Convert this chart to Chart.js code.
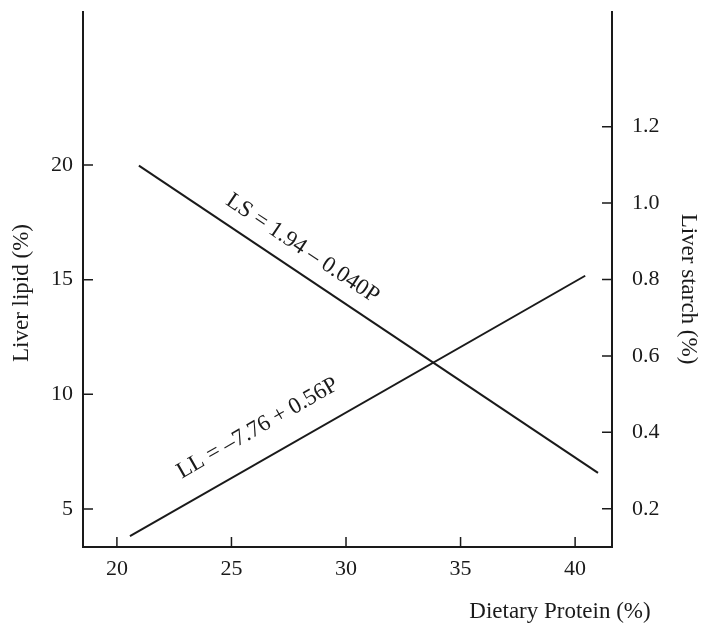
<!DOCTYPE html>
<html>
<head>
<meta charset="utf-8">
<script src="https://cdn.jsdelivr.net/npm/chart.js@4.4.0/dist/chart.umd.min.js"></script>
<style>
html, body { margin: 0; padding: 0; background: #fff; }
</style>
</head>
<body>
<canvas id="myChart" width="703" height="627"></canvas>
<script>
// end points of the two regression lines
const proteinLL = [20.57, 40.44];
const lipidLL = [3.82, 15.17];
const proteinLS = [20.96, 41.0];
const starchLS = [1.098, 0.294];

const proteinTicks = [20, 25, 30, 35, 40];
const lipidTicks = [5, 10, 15, 20];
const starchTicks = [0.2, 0.4, 0.6, 0.8, 1.0, 1.2];

const labelLL = 'LL = –7.76 + 0.56P';
const labelLS = 'LS = 1.94 – 0.040P';
// where the equation text sits (protein, value on its own axis)
const labelLLAt = [26.14, 8.52];
const labelLSAt = [28.1, 0.881];

const serif = "'Liberation Serif', 'Times New Roman', serif";
const ink = '#1a1a1a';

Chart.defaults.font.family = serif;
Chart.defaults.font.size = 22;
Chart.defaults.color = ink;

function fixTicks(list) {
    return function (scale) {
        scale.ticks = list.map(v => ({ value: v }));
    };
}

function fitSide(w) {
    return function (scale) {
        scale.width = w;
        scale.paddingTop = 0;
        scale.paddingBottom = 0;
    };
}

function toPoints(xs, ys) {
    return xs.map((x, i) => ({ x: x, y: ys[i] }));
}

const decor = {
    id: 'decor',
    afterDraw(chart) {
        const c = chart.ctx;
        const area = chart.chartArea;
        const sx = chart.scales.x, sy = chart.scales.y, sy1 = chart.scales.y1;
        c.save();
        c.strokeStyle = ink;
        c.lineWidth = 1.5;
        // inward tick marks
        c.beginPath();
        sx.ticks.forEach(t => {
            const px = sx.getPixelForValue(t.value);
            c.moveTo(px, area.bottom); c.lineTo(px, area.bottom - 10);
        });
        sy.ticks.forEach(t => {
            const py = sy.getPixelForValue(t.value);
            c.moveTo(area.left, py); c.lineTo(area.left + 10, py);
        });
        sy1.ticks.forEach(t => {
            const py = sy1.getPixelForValue(t.value);
            c.moveTo(area.right, py); c.lineTo(area.right - 10, py);
        });
        c.stroke();

        c.fillStyle = ink;
        c.font = '23px ' + serif;
        c.textAlign = 'center';
        c.textBaseline = 'middle';

        // axis titles
        c.fillText('Dietary Protein (%)', 560, 612);
        c.save();
        c.translate(22, 293);
        c.rotate(-Math.PI / 2);
        c.fillText('Liver lipid (%)', 0, 0);
        c.restore();
        c.save();
        c.translate(688, 289);
        c.rotate(Math.PI / 2);
        c.fillText('Liver starch (%)', 0, 0);
        c.restore();

        // equation labels along the lines
        function lineLabel(text, at, xs, ys, scaleY) {
            const x0 = sx.getPixelForValue(xs[0]), y0 = scaleY.getPixelForValue(ys[0]);
            const x1 = sx.getPixelForValue(xs[1]), y1 = scaleY.getPixelForValue(ys[1]);
            const ang = Math.atan2(y1 - y0, x1 - x0);
            c.save();
            c.translate(sx.getPixelForValue(at[0]), scaleY.getPixelForValue(at[1]));
            c.rotate(ang);
            c.fillText(text, 0, 0);
            c.restore();
        }
        lineLabel(labelLL, labelLLAt, proteinLL, lipidLL, sy);
        lineLabel(labelLS, labelLSAt, proteinLS, starchLS, sy1);
        c.restore();
    }
};

const ctx = document.getElementById('myChart');
const myChart = new Chart(ctx, {
    type: 'scatter',
    data: {
        datasets: [{
            label: 'Liver lipid',
            data: toPoints(proteinLL, lipidLL),
            yAxisID: 'y',
            showLine: true,
            borderColor: ink,
            borderWidth: 2,
            pointRadius: 0
        }, {
            label: 'Liver starch',
            data: toPoints(proteinLS, starchLS),
            yAxisID: 'y1',
            showLine: true,
            borderColor: ink,
            borderWidth: 2,
            pointRadius: 0
        }]
    },
    options: {
        responsive: false,
        animation: false,
        devicePixelRatio: 1,
        layout: { padding: { top: 12, left: 0, right: 0, bottom: 0 } },
        plugins: {
            legend: { display: false },
            tooltip: { enabled: false }
        },
        scales: {
            x: {
                type: 'linear',
                position: 'bottom',
                min: 18.52,
                max: 41.61,
                afterBuildTicks: fixTicks(proteinTicks),
                afterFit: s => { s.height = 80; s.paddingLeft = 0; s.paddingRight = 0; },
                grid: { display: false, drawTicks: false },
                border: { color: ink, width: 2 },
                ticks: { padding: 9, autoSkip: false, maxRotation: 0 }
            },
            y: {
                type: 'linear',
                position: 'left',
                min: 3.343,
                max: 26.67,
                afterBuildTicks: fixTicks(lipidTicks),
                afterFit: fitSide(83),
                grid: { display: false, drawTicks: false },
                border: { color: ink, width: 2 },
                ticks: { padding: 10, autoSkip: false }
            },
            y1: {
                type: 'linear',
                position: 'right',
                min: 0.1,
                max: 1.5,
                afterBuildTicks: fixTicks(starchTicks),
                afterFit: fitSide(91),
                grid: { display: false, drawTicks: false },
                border: { color: ink, width: 2 },
                ticks: { padding: 20, autoSkip: false, callback: v => v.toFixed(1) }
            }
        }
    },
    plugins: [decor]
});
</script>
</body>
</html>
